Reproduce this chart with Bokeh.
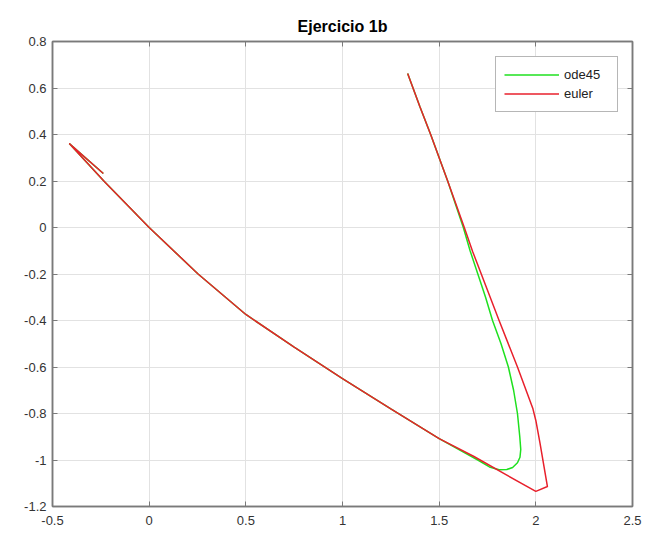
from bokeh.plotting import figure
from bokeh.models import Range1d, LinearAxis, FixedTicker, Legend, LegendItem
from bokeh.embed import file_html
from bokeh.resources import INLINE

# ---- data ----
x_ode45 = [1.337, 1.40, 1.456, 1.544, 1.625, 1.66, 1.70, 1.74, 1.776, 1.82, 1.858, 1.885,
           1.905, 1.917, 1.922, 1.918, 1.905, 1.88, 1.85, 1.81, 1.76, 1.70, 1.5, 1.25, 1.0,
           0.75, 0.5, 0.253, 0.0, -0.232, -0.413, -0.237]
y_ode45 = [0.662, 0.52, 0.40, 0.20, 0.0, -0.10, -0.20, -0.30, -0.40, -0.50, -0.60, -0.70,
           -0.80, -0.90, -0.955, -0.988, -1.012, -1.032, -1.041, -1.042, -1.03, -1.0, -0.908,
           -0.78, -0.65, -0.515, -0.374, -0.20, 0.0, 0.198, 0.361, 0.232]

x_euler = [1.337, 1.40, 1.456, 1.544, 1.63, 1.673, 1.81, 1.905, 1.985, 2.0, 2.022, 2.06, 2.0,
           1.85, 1.68, 1.5, 1.25, 1.0, 0.75, 0.5, 0.253, 0.0, -0.232, -0.413, -0.237]
y_euler = [0.662, 0.52, 0.40, 0.20, 0.0, -0.103, -0.40, -0.60, -0.78, -0.83, -0.93, -1.114,
           -1.135, -1.065, -0.985, -0.908, -0.78, -0.65, -0.515, -0.374, -0.20, 0.0, 0.198,
           0.361, 0.232]

x_ticks = [-0.5, 0, 0.5, 1, 1.5, 2, 2.5]
x_tick_labels = ["-0.5", "0", "0.5", "1", "1.5", "2", "2.5"]
y_ticks = [-1.2, -1.0, -0.8, -0.6, -0.4, -0.2, 0, 0.2, 0.4, 0.6, 0.8]
y_tick_labels = ["-1.2", "-1", "-0.8", "-0.6", "-0.4", "-0.2", "0", "0.2", "0.4", "0.6", "0.8"]

series_names = ["ode45", "euler"]
series_colors = ["#1fe01f", "#e8202c"]

FONT = "Liberation Sans"
AXIS_COLOR = "#7a7a7a"
LABEL_COLOR = "#333333"

p = figure(width=645, height=531, output_backend="svg", toolbar_location=None,
           x_range=Range1d(-0.5, 2.5), y_range=Range1d(-1.2, 0.8),
           min_border_left=52, min_border_right=13, min_border_top=41, min_border_bottom=25,
           title="Ejercicio 1b")

p.title.text_font = FONT
p.title.text_font_size = "16px"
p.title.text_font_style = "bold"
p.title.align = "center"
p.title.text_color = "#000000"
p.title.standoff = 14

p.outline_line_color = AXIS_COLOR
p.outline_line_width = 1.5
p.background_fill_color = "white"
p.border_fill_color = "white"

def style_axis(ax, ticks, labels, show_labels=True):
    ax.ticker = FixedTicker(ticks=ticks)
    ax.axis_line_color = AXIS_COLOR
    ax.axis_line_width = 1.5
    ax.major_tick_line_color = AXIS_COLOR
    ax.major_tick_in = 5
    ax.major_tick_out = 0
    ax.minor_tick_line_color = None
    ax.major_label_text_font = FONT
    if show_labels:
        ax.major_label_overrides = {t: l for t, l in zip(ticks, labels)}
        ax.major_label_text_color = LABEL_COLOR
        ax.major_label_text_font_size = "13px"
        ax.major_label_standoff = 4
    else:
        ax.major_label_text_color = None
        ax.major_label_text_font_size = "1px"
        ax.major_label_standoff = 0

style_axis(p.xaxis[0], x_ticks, x_tick_labels)
style_axis(p.yaxis[0], y_ticks, y_tick_labels)
p.xaxis[0].major_label_standoff = 9
p.yaxis[0].major_label_standoff = 6

top_axis = LinearAxis()
style_axis(top_axis, x_ticks, x_tick_labels, show_labels=False)
p.add_layout(top_axis, "above")
right_axis = LinearAxis()
style_axis(right_axis, y_ticks, y_tick_labels, show_labels=False)
p.add_layout(right_axis, "right")

p.xgrid.ticker = FixedTicker(ticks=x_ticks)
p.ygrid.ticker = FixedTicker(ticks=y_ticks)
p.grid.grid_line_color = "#e2e2e2"
p.grid.grid_line_width = 1

r_ode = p.line(x_ode45, y_ode45, line_color=series_colors[0], line_width=1.5)
r_eul = p.line(x_euler, y_euler, line_color=series_colors[1], line_width=1.5)

legend = Legend(items=[LegendItem(label=series_names[0], renderers=[r_ode]),
                       LegendItem(label=series_names[1], renderers=[r_eul])],
                location=(443, 394))
legend.margin = 0
legend.padding = 8
legend.spacing = 0
legend.glyph_width = 55
legend.glyph_height = 19
legend.label_height = 19
legend.label_width = 45
legend.label_standoff = 5
legend.label_text_font = FONT
legend.label_text_font_size = "13px"
legend.label_text_color = "#222222"
legend.border_line_color = "#6e6e6e"
legend.border_line_width = 1.5
legend.background_fill_color = "white"
legend.background_fill_alpha = 1.0
p.add_layout(legend, "center")

open("out.html", "w").write(file_html(p, INLINE))
